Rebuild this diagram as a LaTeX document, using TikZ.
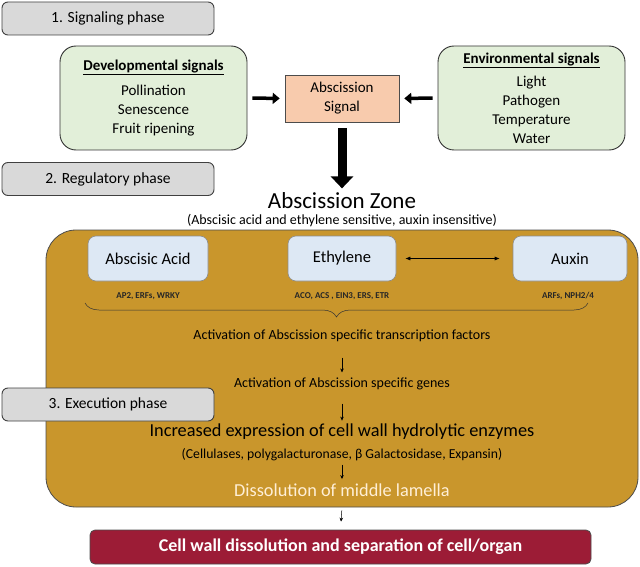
\documentclass[tikz,border=0pt]{standalone}
\usepackage{fontspec}
\setmainfont{Carlito}
\usetikzlibrary{positioning,arrows.meta,decorations.pathreplacing}

\definecolor{phasegray}{HTML}{D9D9D9}
\definecolor{signalgreen}{HTML}{E2EFD9}
\definecolor{signalsalmon}{HTML}{F8CBAD}
\definecolor{zoneorange}{HTML}{C9962C}
\definecolor{hormoneblue}{HTML}{DDE8F4}
\definecolor{lamellatext}{HTML}{FFEFD6}
\definecolor{organred}{HTML}{9C1C36}

\begin{document}
\begin{tikzpicture}[x=1pt, y=-1pt,
    phase/.style={rectangle, rounded corners=6pt, draw=black!75, line width=0.9pt, fill=phasegray,
        minimum width=212pt, minimum height=33pt, text centered, font=\fontsize{15.5}{18}\selectfont},
    signal/.style={rectangle, rounded corners=16pt, draw=black!80, line width=0.9pt, fill=signalgreen,
        minimum width=187pt, minimum height=104pt, align=center, font=\fontsize{15}{19}\selectfont},
    hormone/.style={rectangle, rounded corners=8pt, draw=black!45, line width=0.6pt, fill=hormoneblue,
        minimum height=45pt, text centered, font=\fontsize{16.5}{19}\selectfont},
    genes/.style={text centered, font=\fontsize{9}{11}\selectfont\bfseries, text=black!85},
    step text/.style={text centered, font=\fontsize{14}{17}\selectfont},
    fatarrow/.style={-{Triangle[width=11pt,length=7pt]}, line width=3.5pt},
    thinarrow/.style={-{Stealth[length=4pt,width=3.5pt]}, line width=0.5pt}
]
\useasboundingbox (0,0) rectangle (640,567);

% signaling
\node [phase] (phaseA) at (108,18.5) {1. Signaling phase};
\node [signal] (devsig) at (153.5,98) {\underline{\textbf{Developmental signals}}\\[6pt] Pollination\\ Senescence\\ Fruit ripening};
\node [signal] (envsig) at (531.5,98) {\underline{\textbf{Environmental signals}}\\[4pt] Light\\ Pathogen\\ Temperature\\ Water};
\node [rectangle, draw=black!70, line width=0.6pt, fill=signalsalmon, minimum width=114pt, minimum height=47pt,
    align=center, font=\fontsize{15}{19}\selectfont] (abssig) at (342,98.5) {Abscission\\ Signal};

\draw [fatarrow, shorten <=5pt, shorten >=5pt] (devsig.east) -- (abssig.west);
\draw [fatarrow, shorten <=5pt, shorten >=5pt] (envsig.west) -- (abssig.east);

% regulatory
\node [phase] (phaseB) at (108,179) {2. Regulatory phase};
\node [font=\fontsize{23}{26}\selectfont] (zone) at (342,201) {Abscission Zone};
\node [font=\fontsize{14}{16}\selectfont] (zonenote) at (342,221) {(Abscisic acid and ethylene sensitive, auxin insensitive)};
\draw [-{Triangle[width=22pt,length=12pt]}, line width=9pt, shorten <=6pt, shorten >=1pt] (abssig.south) -- (zone.north);

\node [rectangle, rounded corners=30pt, draw=black!70, line width=0.8pt, fill=zoneorange,
    minimum width=592pt, minimum height=277pt] (azbox) at (342,368.5) {};

\node [hormone, minimum width=120pt] (aba) at (148,258.5) {Abscisic Acid};
\node [hormone, minimum width=108pt] (eth) at (342,258.5) {Ethylene};
\node [hormone, minimum width=114pt] (aux) at (570,258.5) {Auxin};
\draw [{Latex[length=5pt,width=4pt]}-{Latex[length=5pt,width=4pt]}, line width=0.6pt,
    shorten <=9pt, shorten >=13pt] (eth.east) -- (aux.west);

\node [genes] (abagenes) at (148,296) {AP2, ERFs, WRKY};
\node [genes] (ethgenes) at (342,296) {ACO, ACS , EIN3, ERS, ETR};
\node [genes] (auxgenes) at (568,296) {ARFs, NPH2/4};

\coordinate (braceL) at (85,303);
\coordinate (braceR) at (588,303);
\draw [decorate, decoration={brace, mirror, amplitude=14pt}, line width=0.5pt, black!80] (braceL) -- (braceR);

\node [step text] (tfact) at (342,336) {Activation of Abscission specific transcription factors};
\node [step text] (actgenes) at (342,384) {Activation of Abscission specific genes};
\draw [thinarrow, shorten <=12pt, shorten >=2pt] (tfact.south) -- (actgenes.north);

% execution
\node [phase] (phaseC) at (108,404.5) {3. Execution phase};
\node [font=\fontsize{18.3}{21}\selectfont] (enzymes) at (342,432) {Increased expression of cell wall hydrolytic enzymes};
\node [font=\fontsize{13.7}{16}\selectfont] (enzlist) at (342,455) {(Cellulases, polygalacturonase, β Galactosidase, Expansin)};
\draw [thinarrow, shorten <=10pt, shorten >=0pt] (actgenes.south) -- (enzymes.north);

\node [font=\fontsize{18.3}{21}\selectfont, text=lamellatext] (lamella) at (342,490) {Dissolution of middle lamella};
\draw [thinarrow, shorten <=0pt, shorten >=1pt] (enzlist.south) -- (lamella.north);

\node [rectangle, rounded corners=5pt, draw=black!70, line width=0.8pt, fill=organred, minimum width=501pt,
    minimum height=34pt, text=white, font=\fontsize{18}{21}\selectfont\bfseries] (separation) at (340.5,547)
    {Cell wall dissolution and separation of cell/organ};
\draw [thinarrow, shorten <=3pt, shorten >=8pt] (azbox.south) -- (separation.north);

\end{tikzpicture}
\end{document}
